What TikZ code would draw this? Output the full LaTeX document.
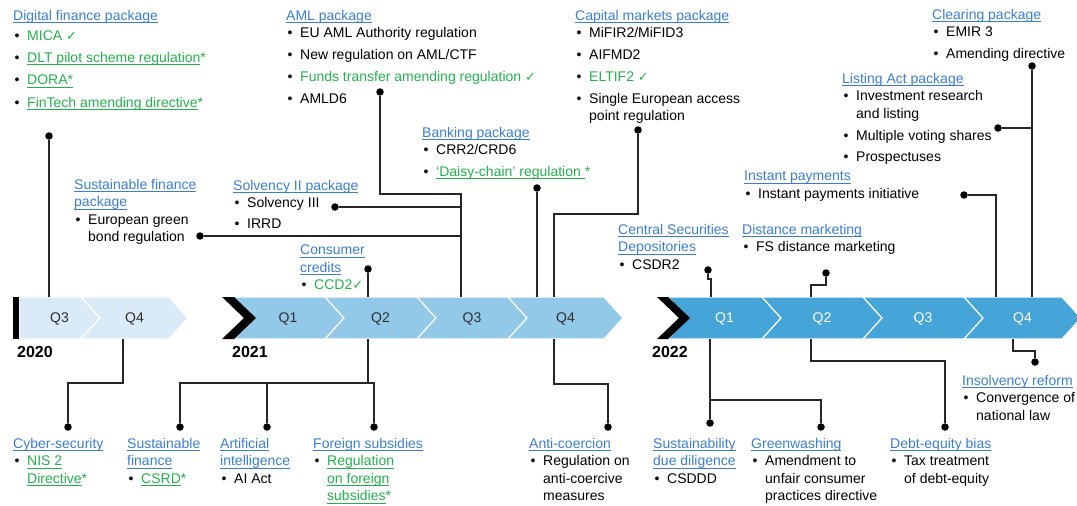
\documentclass[tikz,border=0pt]{standalone}
\usepackage{fontspec}
\setmainfont{Liberation Sans}
\newfontfamily\symfont{DejaVu Sans}
\usetikzlibrary{calc}

\definecolor{linkblue}{RGB}{58,126,212}
\definecolor{okgreen}{RGB}{34,177,76}
\definecolor{q20}{RGB}{218,234,246}
\definecolor{q21}{RGB}{146,200,232}
\definecolor{q22}{RGB}{69,165,216}
\definecolor{qtext}{RGB}{45,45,45}

\newcommand\ulink[1]{\leavevmode\setbox0\hbox{#1}\rlap{\rule[-2.6pt]{\wd0}{0.8pt}}\box0}
\newcommand\hd[1]{\textcolor{linkblue}{\ulink{#1}}}
\newcommand\grn[1]{\textcolor{okgreen}{#1}}
\newcommand\itm{\makebox[14pt][l]{\hspace{1.5pt}\textbullet}}
\newcommand\cont{\hspace*{14pt}}
\newcommand\ok{{\symfont\fontsize{13}{13}\selectfont ✓}}

\begin{document}
\begin{tikzpicture}[
    x=1pt,y=-1pt,
    txt/.style={anchor=north west,align=left,inner sep=0pt,
        font=\fontsize{14}{17.5}\selectfont},
    qlab/.style={inner sep=0pt,font=\fontsize{14}{17}\selectfont},
    yr/.style={anchor=base west,inner sep=0pt,
        font=\fontsize{16}{18}\selectfont\bfseries},
    knob/.style={circle,fill=black,inner sep=0pt,minimum size=7.5pt},
    link/.style={line width=1.3pt,black!85}]
    \useasboundingbox (0,0) rectangle (1077,506);
    % quarter band
    \foreach \xa/\xb/\nt/\col/\tc/\lab/\nm in {
        19/81/0/q20/qtext/Q3/q3a, 81/169/19/q20/qtext/Q4/q4a,
        232/325/19/q21/qtext/Q1/q1b, 325/417/19/q21/qtext/Q2/q2b,
        417/508/19/q21/qtext/Q3/q3b, 508/604/19/q21/qtext/Q4/q4b,
        668/762/19/q22/white/Q1/q1c, 762/863/19/q22/white/Q2/q2c,
        863/964/19/q22/white/Q3/q3c, 964/1062/19/q22/white/Q4/q4c} {
        \pgfmathsetmacro{\xm}{(\xa+\xb)/2+9.5}
        \filldraw[fill=\col,draw=white,line width=1.2pt]
            (\xa,297) -- (\xb,297) -- (\xb+19,318) -- (\xb,339) --
            (\xa,339) -- (\xa+\nt,318) -- cycle;
        \node[qlab,text=\tc] (\nm) at (\xm,319) {\lab};
    }
    \fill[black] (13,297) rectangle (19,339);
    \fill[black] (222,297) -- (234,297) -- (256,318) -- (234,339) --
        (222,339) -- (244,318) -- cycle;
    \fill[black] (657,297) -- (668,297) -- (690,318) -- (668,339) --
        (657,339) -- (679,318) -- cycle;
    \node[yr] (y20) at (17,357) {2020};
    \node[yr] (y21) at (232,357) {2021};
    \node[yr] (y22) at (652,357) {2022};
    \coordinate (top) at (0,297);
    \coordinate (bot) at (0,339);

    % texts above the band
    \node[txt] (dig) at (13,10) {\hd{Digital finance package}\\[2.5pt]
        \itm\grn{MICA \ok}\\[4.8pt]
        \itm\grn{\ulink{DLT pilot scheme regulation}*}\\[4.8pt]
        \itm\grn{\ulink{DORA*}}\\[4.8pt]
        \itm\grn{\ulink{FinTech amending directive}*}};
    \node[txt] (aml) at (286,10) {\hd{AML package}\\
        \itm EU AML Authority regulation\\[4.3pt]
        \itm New regulation on AML/CTF\\[4.3pt]
        \itm\grn{Funds transfer amending regulation \ok}\\[4.3pt]
        \itm AMLD6};
    \node[txt] (cap) at (575,10) {\hd{Capital markets package}\\
        \itm MiFIR2/MiFID3\\[4.3pt]
        \itm AIFMD2\\[4.3pt]
        \itm\grn{ELTIF2 \ok}\\[4.3pt]
        \itm Single European access\\
        \cont point regulation};
    \node[txt] (clr) at (932,9) {\hd{Clearing package}\\
        \itm EMIR 3\\[4.3pt]
        \itm Amending directive};
    \node[txt] (lst) at (842,73) {\hd{Listing Act package}\\
        \itm Investment research\\
        \cont and listing\\[4.3pt]
        \itm Multiple voting shares\\[4.3pt]
        \itm Prospectuses};
    \node[txt] (ip) at (744,171) {\hd{Instant payments}\\
        \itm Instant payments initiative};
    \node[txt] (bank) at (422,127) {\hd{Banking package}\\
        \itm CRR2/CRD6\\[4.3pt]
        \itm\grn{\ulink{‘Daisy-chain’ regulation }*}};
    \node[txt] (sol) at (233,180) {\hd{Solvency II package}\\
        \itm Solvency III\\[3pt]
        \itm IRRD};
    \node[txt] (sfp) at (74,179) {\hd{Sustainable finance}\\
        \hd{package}\\
        \itm European green\\
        \cont bond regulation};
    \node[txt] (ccd) at (300,245) {\hd{Consumer}\\
        \hd{credits}\\
        \itm\grn{CCD2\ok}};
    \node[txt] (csd) at (618,224) {\hd{Central Securities}\\
        \hd{Depositories}\\
        \itm CSDR2};
    \node[txt] (dm) at (742,224) {\hd{Distance marketing}\\
        \itm FS distance marketing};

    % texts below the band
    \node[txt] (cyb) at (13,438) {\hd{Cyber-security}\\
        \itm\grn{\ulink{NIS 2}}\\
        \cont\grn{\ulink{Directive}*}};
    \node[txt] (sf) at (127,438) {\hd{Sustainable}\\
        \hd{finance}\\
        \itm\grn{\ulink{CSRD}*}};
    \node[txt] (ai) at (220,438) {\hd{Artificial}\\
        \hd{intelligence}\\
        \itm AI Act};
    \node[txt] (fs) at (313,438) {\hd{Foreign subsidies}\\
        \itm\grn{\ulink{Regulation}}\\
        \cont\grn{\ulink{on foreign}}\\
        \cont\grn{\ulink{subsidies}*}};
    \node[txt] (ac) at (529,438) {\hd{Anti-coercion}\\
        \itm Regulation on\\
        \cont anti-coercive\\
        \cont measures};
    \node[txt] (sdd) at (653,438) {\hd{Sustainability}\\
        \hd{due diligence}\\
        \itm CSDDD};
    \node[txt] (gw) at (751,438) {\hd{Greenwashing}\\
        \itm Amendment to\\
        \cont unfair consumer\\
        \cont practices directive};
    \node[txt] (de) at (890,438) {\hd{Debt-equity bias}\\
        \itm Tax treatment\\
        \cont of debt-equity};
    \node[txt] (ins) at (962,375) {\hd{Insolvency reform}\\
        \itm Convergence of\\
        \cont national law};

    % dots
    \node[knob] (d-dig) at (49,136) {};
    \node[knob] (d-aml) at (380,92) {};
    \node[knob] (d-sol) at (335,207) {};
    \node[knob] (d-sfp) at (200,236) {};
    \node[knob] (d-bank) at (537,188) {};
    \node[knob] (d-cap) at (638,130) {};
    \node[knob] (d-ccd) at (368,269) {};
    \node[knob] (d-csd) at (708,270) {};
    \node[knob] (d-dm) at (826,273) {};
    \node[knob] (d-ip) at (964,195) {};
    \node[knob] (d-lst) at (998,128) {};
    \node[knob] (d-clr) at (1032,66) {};
    \node[knob] (d-cyb) at (68,427) {};
    \node[knob] (d-csrd) at (180,427) {};
    \node[knob] (d-ai) at (267,427) {};
    \node[knob] (d-fs) at (374,427) {};
    \node[knob] (d-ac) at (608,427) {};
    \node[knob] (d-sdd) at (710,423) {};
    \node[knob] (d-gw) at (821,427) {};
    \node[knob] (d-de) at (945,427) {};
    \node[knob] (d-ins) at (1035,362) {};

    % joints
    \coordinate (j-aml) at (461,194);
    \coordinate (j-cap) at (554,214);
    \coordinate (j-csd) at (711,279);
    \coordinate (j-dm) at (811,285);
    \coordinate (j-ip) at (996,195);
    \coordinate (j-cyb) at (123,383);
    \coordinate (j-eu) at (368,383);
    \coordinate (j-ac) at (554,384);
    \coordinate (j-gw) at (710,400);
    \coordinate (j-de) at (811,361);
    \coordinate (j-ins) at (1013,351);

    % connectors above
    \draw[link] (d-dig) -- (d-dig |- top);
    \draw[link] (d-aml) |- (j-aml) -- (j-aml |- top);
    \draw[link] (d-sol) -- (d-sol -| j-aml);
    \draw[link] (d-sfp) -- (d-sfp -| j-aml);
    \draw[link] (d-bank) -- (d-bank |- top);
    \draw[link] (d-cap) |- (j-cap) -- (j-cap |- top);
    \draw[link] (d-ccd) -- (d-ccd |- top);
    \draw[link] (d-csd) |- (j-csd) -- (j-csd |- top);
    \draw[link] (d-dm) |- (j-dm) -- (j-dm |- top);
    \draw[link] (d-ip) -- (j-ip) -- (j-ip |- top);
    \draw[link] (d-clr) -- (d-clr |- top);
    \draw[link] (d-lst) -- (d-lst -| d-clr);

    % connectors below
    \draw[link] (j-cyb |- bot) -- (j-cyb) -| (d-cyb);
    \draw[link] (j-eu |- bot) -- (j-eu);
    \draw[link] (d-csrd) |- (j-eu) -| (d-fs);
    \draw[link] (d-ai) -- (d-ai |- j-eu);
    \draw[link] (j-ac |- bot) -- (j-ac) -| (d-ac);
    \draw[link] (d-sdd |- bot) -- (d-sdd);
    \draw[link] (j-gw) -| (d-gw);
    \draw[link] (j-de |- bot) -- (j-de) -| (d-de);
    \draw[link] (j-ins |- bot) -- (j-ins) -| (d-ins);
\end{tikzpicture}
\end{document}
